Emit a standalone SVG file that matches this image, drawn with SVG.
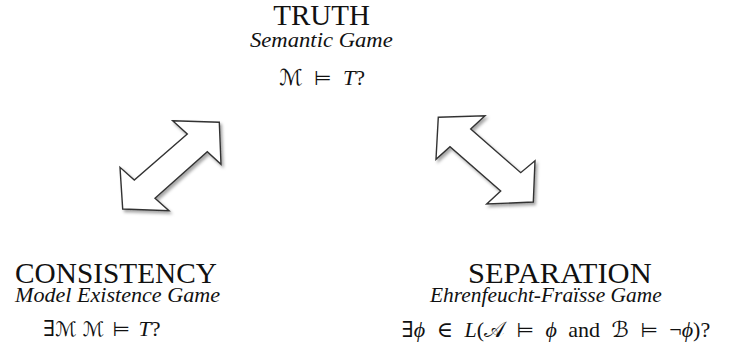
<svg xmlns="http://www.w3.org/2000/svg" width="735" height="356" viewBox="0 0 735 356">
  <style>
    .title { font-family: "Liberation Serif", "DejaVu Serif", serif; font-size: 28.5px; fill: #111; }
    .sub { font-family: "Liberation Serif", "DejaVu Serif", serif; font-size: 21.5px; font-style: italic; fill: #111; }
    .math { font-family: "Liberation Serif", "DejaVu Serif", serif; font-size: 22px; fill: #111; text-anchor: middle; word-spacing: 6px; }
    .cal { font-family: "DejaVu Serif", "DejaVu Sans", serif; font-style: normal; }
    .rel { font-family: "DejaVu Sans", serif; font-size: 20px; }
    .it { font-style: italic; }
    .arrow { fill: #ffffff; stroke: #333333; stroke-width: 1.4; stroke-linejoin: miter; filter: url(#shadow); }
  </style>
  <defs>
    <filter id="shadow" x="-20%" y="-20%" width="150%" height="150%">
      <feDropShadow dx="2" dy="2.5" stdDeviation="1.5" flood-color="#000" flood-opacity="0.35"/>
    </filter>
  </defs>
  <rect width="735" height="356" fill="#ffffff"/>

  <g id="connectors">
    <polygon class="arrow" points="172.7,120.7 219.3,122.3 221,164.3 207.3,151.7 155,198.3 169,210.7 122.7,209 120,167.3 134.3,180 187.3,134"/>
    <polygon class="arrow" points="438.3,117.3 485,115.7 470.7,129 520.7,172.7 535,160.7 533.3,202 486.7,204 500.7,191 450,146.7 436,159.3"/>
  </g>

  <g id="truth">
    <text class="title" x="273.3" y="25" textLength="96.7" lengthAdjust="spacingAndGlyphs">TRUTH</text>
    <text class="sub" x="250" y="47" textLength="142.7" lengthAdjust="spacingAndGlyphs">Semantic Game</text>
    <text class="math" x="322" y="85"><tspan class="cal">ℳ</tspan> <tspan class="rel">⊨</tspan> <tspan class="it">T</tspan>?</text>
  </g>

  <g id="consistency">
    <text class="title" x="15" y="283.3" textLength="202" lengthAdjust="spacingAndGlyphs">CONSISTENCY</text>
    <text class="sub" x="15" y="302" textLength="205" lengthAdjust="spacingAndGlyphs">Model Existence Game</text>
    <text class="math" x="43.3" y="336" style="text-anchor:start; word-spacing:3px">∃<tspan class="cal" font-size="20">ℳ</tspan><tspan class="cal" font-size="20" dx="6">ℳ</tspan> <tspan class="rel">⊨</tspan> <tspan class="it">T</tspan>?</text>
  </g>

  <g id="separation">
    <text class="title" x="468" y="283.3" textLength="183.7" lengthAdjust="spacingAndGlyphs">SEPARATION</text>
    <text class="sub" x="430" y="302" textLength="231.7" lengthAdjust="spacingAndGlyphs">Ehrenfeucht-Fraïsse Game</text>
    <text class="math" x="556" y="336.7">∃<tspan class="it">ϕ</tspan> ∈ <tspan class="it">L</tspan>(<tspan class="cal">𝒜</tspan> <tspan class="rel">⊨</tspan> <tspan class="it">ϕ</tspan> and <tspan class="cal">ℬ</tspan> <tspan class="rel">⊨</tspan> ¬<tspan class="it">ϕ</tspan>)?</text>
  </g>
</svg>
